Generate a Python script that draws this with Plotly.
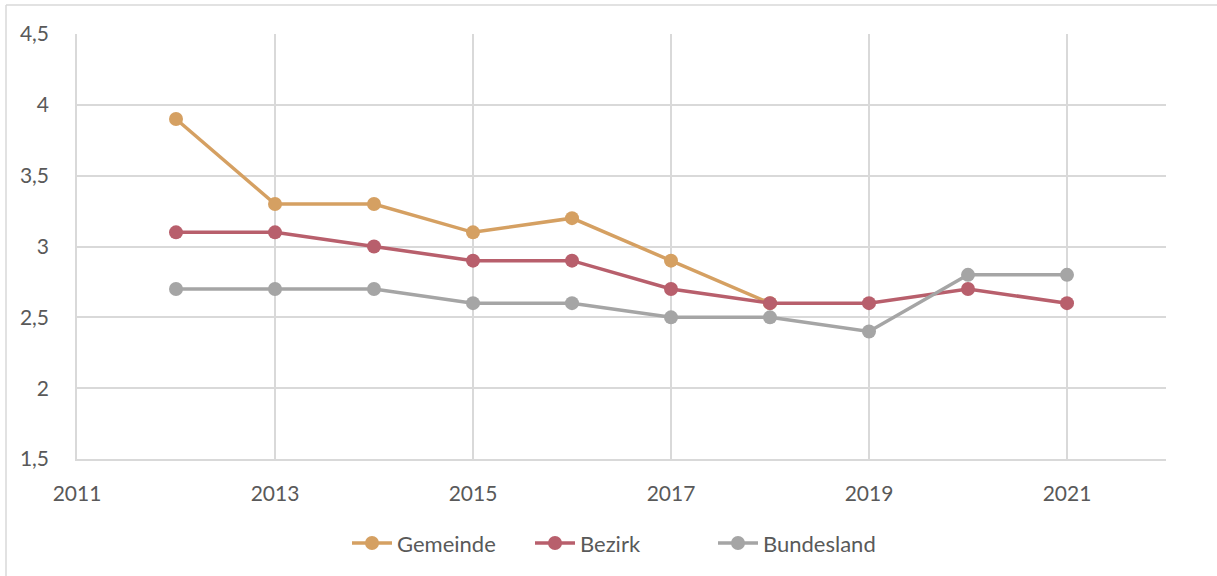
import plotly.graph_objects as go

years = [2012, 2013, 2014, 2015, 2016, 2017, 2018, 2019, 2020, 2021]
gemeinde_years = [2012, 2013, 2014, 2015, 2016, 2017, 2018]
gemeinde = [3.9, 3.3, 3.3, 3.1, 3.2, 2.9, 2.6]
bezirk = [3.1, 3.1, 3.0, 2.9, 2.9, 2.7, 2.6, 2.6, 2.7, 2.6]
bundesland = [2.7, 2.7, 2.7, 2.6, 2.6, 2.5, 2.5, 2.4, 2.8, 2.8]

series = [
    ("Gemeinde", gemeinde_years, gemeinde, "#D5A062"),
    ("Bezirk", years, bezirk, "#B85F6C"),
    ("Bundesland", years, bundesland, "#A5A5A5"),
]

fig = go.Figure()
for name, xs, ys, color in series:
    fig.add_trace(go.Scatter(
        x=xs, y=ys, name=name, mode="lines+markers",
        line=dict(color=color, width=3.5),
        marker=dict(color=color, size=14),
    ))

font_color = "#595959"
tick_font = dict(family="Lato, Open Sans, sans-serif", size=21, color=font_color)
fig.update_layout(
    width=1217, height=576,
    margin=dict(l=77, r=51, t=34, b=117),
    paper_bgcolor="white", plot_bgcolor="white",
    separators=",.",
    font=dict(family="Lato, Open Sans, sans-serif", size=21, color=font_color),
    showlegend=True,
    legend=dict(orientation="h", x=0.5, xanchor="center", y=-0.198, yanchor="middle",
                font=dict(family="Lato, Open Sans, sans-serif", size=22, color=font_color),
                itemwidth=40, entrywidth=128),
    xaxis=dict(range=[2011, 2022], tick0=2011, dtick=2, tickformat="d",
               tickfont=tick_font,
               showgrid=True, gridcolor="#D9D9D9", gridwidth=1.5,
               showline=True, linecolor="#D9D9D9", linewidth=1.5,
               zeroline=False, ticks="", ticklabelstandoff=15),
    yaxis=dict(range=[1.5, 4.5], tick0=1.5, dtick=0.5,
               tickfont=tick_font,
               showgrid=True, gridcolor="#D9D9D9", gridwidth=1.5,
               showline=True, linecolor="#D9D9D9", linewidth=1.5,
               zeroline=False, ticks="", ticklabelstandoff=22),
    shapes=[
        dict(type="line", xref="paper", yref="paper", x0=-0.0652, x1=1.05, y0=1.068, y1=1.068,
             line=dict(color="#D9D9D9", width=1.5)),
        dict(type="line", xref="paper", yref="paper", x0=-0.0652, x1=-0.0652, y0=-0.3, y1=1.068,
             line=dict(color="#D9D9D9", width=1.5)),
    ],
)

fig.write_html("out.html")
